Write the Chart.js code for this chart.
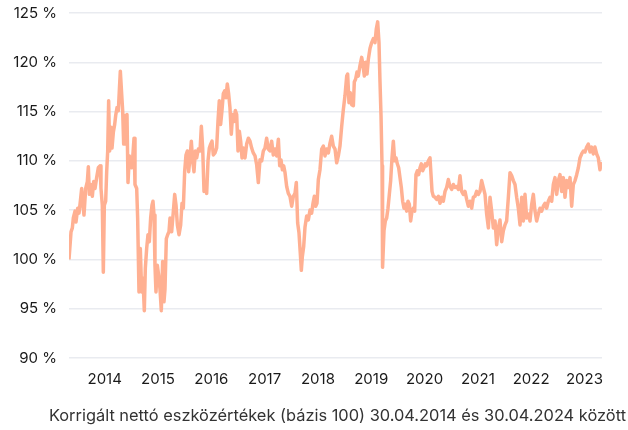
<!DOCTYPE html>
<html>
<head>
<meta charset="utf-8">
<script src="https://cdn.jsdelivr.net/npm/chart.js@4/dist/chart.umd.min.js"></script>
<style>
html,body{margin:0;padding:0;background:#fff;}
#wrap{width:628px;height:430px;position:relative;}
#cap{position:absolute;right:2px;top:405px;font-family:Inter,sans-serif;font-size:16.4px;color:#333;white-space:nowrap;line-height:20px;}
</style>
</head>
<body>
<div id="wrap"><canvas id="c"></canvas><div id="cap"></div></div>
<script>
// Dates as decimal years (30.04.2014 -> 30.04.2024)
const dates = [
2014.33,2014.368,2014.393,2014.411,2014.443,2014.461,2014.493,2014.518,2014.543,2014.568,2014.586,2014.611,2014.643,2014.674,2014.693,2014.712,2014.737,2014.768,2014.793,2014.818,2014.849,2014.88,2014.912,2014.93,2014.955,2014.974,2014.993,
2015.018,2015.037,2015.056,2015.074,2015.093,2015.118,2015.137,2015.162,2015.187,2015.206,2015.231,2015.256,2015.274,2015.293,2015.318,2015.337,2015.356,2015.381,2015.399,2015.418,2015.437,2015.462,2015.487,2015.506,2015.525,2015.55,2015.568,2015.6,2015.618,2015.643,2015.668,2015.693,2015.718,2015.743,2015.762,2015.787,2015.812,2015.837,2015.862,2015.887,2015.906,2015.925,2015.943,2015.962,2015.987,
2016.012,2016.037,2016.062,2016.087,2016.112,2016.131,2016.156,2016.181,2016.206,2016.225,2016.256,2016.288,2016.313,2016.338,2016.363,2016.394,2016.425,2016.45,2016.475,2016.5,2016.525,2016.55,2016.575,2016.6,2016.625,2016.65,2016.675,2016.7,2016.725,2016.757,2016.788,2016.813,2016.838,2016.863,2016.888,2016.913,2016.938,2016.963,2016.988,
2017.013,2017.038,2017.069,2017.1,2017.125,2017.15,2017.175,2017.2,2017.225,2017.25,2017.275,2017.3,2017.325,2017.35,2017.375,2017.4,2017.426,2017.451,2017.476,2017.501,2017.526,2017.551,2017.576,2017.601,2017.632,2017.663,2017.695,2017.726,2017.757,2017.788,2017.82,2017.851,2017.882,2017.913,2017.945,2017.976,
2018.007,2018.038,2018.07,2018.101,2018.132,2018.163,2018.195,2018.226,2018.258,2018.283,2018.308,2018.333,2018.358,2018.383,2018.414,2018.445,2018.476,2018.508,2018.539,2018.57,2018.595,2018.62,2018.645,2018.67,2018.689,2018.708,2018.733,2018.758,2018.789,2018.82,2018.852,2018.883,2018.908,2018.933,2018.958,2018.983,
2019.008,2019.039,2019.071,2019.102,2019.133,2019.164,2019.196,2019.227,2019.258,2019.289,2019.321,2019.352,2019.383,2019.414,2019.446,2019.477,2019.508,2019.54,2019.558,2019.583,2019.608,2019.633,2019.665,2019.683,2019.708,2019.733,2019.758,2019.79,2019.821,2019.846,2019.871,2019.896,2019.921,2019.946,2019.977,
2020.009,2020.04,2020.071,2020.096,2020.121,2020.146,2020.165,2020.184,2020.203,2020.21,2020.216,2020.24,2020.265,2020.29,2020.315,2020.34,2020.365,2020.39,2020.415,2020.44,2020.465,2020.49,2020.515,2020.54,2020.565,2020.59,2020.615,2020.64,2020.665,2020.69,2020.715,2020.74,2020.765,2020.79,2020.815,2020.84,2020.865,2020.89,2020.915,2020.94,2020.965,2020.99,
2021.015,2021.04,2021.072,2021.103,2021.122,2021.141,2021.166,2021.197,2021.228,2021.26,2021.291,2021.322,2021.353,2021.385,2021.416,2021.447,2021.478,2021.51,2021.541,2021.572,2021.603,2021.635,2021.666,2021.697,2021.728,2021.76,2021.791,2021.822,2021.853,2021.885,2021.916,2021.947,2021.978,
2022.01,2022.041,2022.072,2022.103,2022.135,2022.166,2022.198,2022.229,2022.26,2022.291,2022.323,2022.354,2022.385,2022.416,2022.448,2022.479,2022.51,2022.541,2022.573,2022.604,2022.635,2022.667,2022.698,2022.729,2022.76,2022.792,2022.823,2022.854,2022.885,2022.917,2022.948,2022.979,
2023.011,2023.042,2023.073,2023.104,2023.136,2023.167,2023.198,2023.229,2023.26,2023.292,2023.323,2023.354,2023.386,2023.417,2023.448,2023.48,2023.511,2023.542,2023.573,2023.605,2023.636,2023.667,2023.698,2023.73,2023.761,2023.792,2023.824,2023.855,2023.886,2023.917,2023.948,2023.98,
2024.011,2024.042,2024.073,2024.105,2024.136,2024.167,2024.198,2024.23,2024.261,2024.292,2024.311,2024.33
];
// Adjusted NAV (base 100), percent
const navValues = [
100.0,102.8,103.2,104.2,104.9,103.8,105.2,104.7,105.9,107.2,105.9,104.5,107.2,107.9,109.4,106.6,107.6,106.4,107.9,107.2,108.3,109.3,109.5,107.2,105.5,98.7,105.5,
105.9,108.9,111.0,116.1,111.0,113.4,111.3,112.9,113.7,114.6,115.4,115.1,117.1,119.1,116.8,115.1,111.7,114.6,111.7,114.7,107.8,110.5,110.0,109.3,110.3,112.3,107.6,107.2,104.2,96.7,101.1,96.7,98.1,94.8,99.1,101.1,102.5,101.8,104.2,105.5,105.9,104.5,99.4,96.7,99.4,
98.4,97.0,94.8,99.8,95.7,97.0,102.1,102.5,102.8,104.2,102.8,104.9,106.6,105.5,103.5,102.5,103.5,105.7,105.2,108.9,110.6,111.0,108.9,110.3,112.0,110.0,108.9,111.0,110.3,111.2,111.0,113.5,111.3,106.9,107.6,106.7,110.0,111.3,111.7,
112.0,110.6,110.8,111.3,114.0,116.1,113.7,115.1,116.8,117.1,116.4,117.8,116.8,115.4,112.7,114.7,114.0,115.1,114.7,111.0,113.0,112.0,110.3,111.3,110.3,111.7,112.3,112.0,111.3,110.8,110.5,109.6,107.8,110.1,110.0,111.0,
111.3,112.3,111.2,111.0,112.0,110.6,111.2,110.5,112.2,109.5,110.1,109.1,109.5,108.8,107.4,106.7,106.4,105.4,106.4,106.7,107.8,103.7,102.7,100.6,98.9,100.3,101.3,103.3,104.4,104.0,105.0,104.7,105.7,106.4,105.4,105.7,
108.1,109.1,111.2,111.5,110.5,111.2,110.8,111.8,112.5,111.5,111.2,109.8,110.5,111.5,113.5,115.2,116.6,118.6,118.8,115.9,116.9,115.7,115.6,118.0,118.3,119.0,118.6,119.7,120.5,119.7,118.6,120.0,118.8,120.3,121.4,
122.0,122.4,122.0,123.4,124.1,122.0,118.0,114.6,109.5,104.0,99.2,102.9,103.9,104.2,105.2,106.6,108.0,110.3,112.0,110.0,110.3,109.7,109.3,108.3,107.3,105.9,105.2,105.6,104.9,105.9,105.6,103.9,104.9,105.2,104.9,108.6,109.0,108.6,109.3,109.7,109.0,109.3,
109.7,109.5,110.0,110.3,108.6,106.9,106.4,106.3,106.1,106.4,105.7,106.3,105.9,106.9,107.3,108.1,107.4,107.1,107.6,107.3,107.4,107.1,108.5,106.9,106.6,106.9,106.1,105.4,105.9,105.2,106.3,106.4,106.9,
106.6,106.9,108.0,107.3,106.6,104.6,103.2,106.3,104.9,103.2,103.9,101.5,103.2,104.0,101.8,102.9,103.5,103.9,106.3,108.8,108.5,108.0,107.6,106.3,105.2,103.5,106.3,103.9,106.6,104.2,104.6,103.9,
105.6,106.6,104.9,103.9,104.6,105.2,104.9,105.4,105.7,105.2,105.9,106.3,105.9,107.6,108.3,106.6,108.0,108.6,106.9,108.3,106.3,108.0,107.3,108.3,105.4,107.6,108.0,108.6,109.3,110.3,110.7,111.0,
110.9,111.4,111.7,110.9,111.4,110.7,111.4,110.7,110.3,109.1,109.7,109.5
];
const tickPositions = [2015,2016,2017,2018,2019,2020,2021,2022,2023,2024];
const tickLabels = ['2014','2015','2016','2017','2018','2019','2020','2021','2022','2023'];
const yTicks = [90,95,100,105,110,115,120,125];
const caption = 'Korrigált nettó eszközértékek (bázis 100) 30.04.2014 és 30.04.2024 között';

document.getElementById('cap').textContent = caption;
const points = dates.map((d,i)=>({x:d,y:navValues[i]}));

new Chart(document.getElementById('c'), {
  type:'line',
  data:{datasets:[{
    data:points,
    borderColor:'#ffb092',
    borderWidth:3.5,
    borderJoinStyle:'round',
    pointRadius:0,
    tension:0,
    fill:false
  }]},
  options:{
    responsive:true,
    maintainAspectRatio:false,
    animation:false,
    layout:{padding:{top:13,right:26,left:0,bottom:38}},
    plugins:{
      legend:{display:false},
      tooltip:{enabled:false}
    },
    scales:{
      x:{
        type:'linear',
        min:dates[0],
        max:dates[dates.length-1],
        grid:{display:false},
        border:{display:false},
        afterBuildTicks:(s)=>{s.ticks = tickPositions.map(v=>({value:v}));},
        afterFit:(s)=>{s.paddingLeft=0;s.paddingRight=0;},
        ticks:{
          autoSkip:false,
          maxRotation:0,
          color:'#1a1a1a',
          font:{family:'Inter',size:15},
          padding:4,
          callback:(v)=>{const i=tickPositions.indexOf(v);return i>=0?tickLabels[i]:'';}
        }
      },
      y:{
        min:90,max:125,
        afterBuildTicks:(s)=>{s.ticks = yTicks.map(v=>({value:v}));},
        afterFit:(s)=>{s.width=69;s.paddingTop=0;s.paddingBottom=0;},
        grid:{color:'#e9ebf0',lineWidth:1.5,drawTicks:false},
        border:{display:false},
        ticks:{
          color:'#1a1a1a',
          font:{family:'Inter',size:15},
          padding:12,
          callback:(v)=>v+' %'
        }
      }
    }
  }
});
</script>
</body>
</html>
